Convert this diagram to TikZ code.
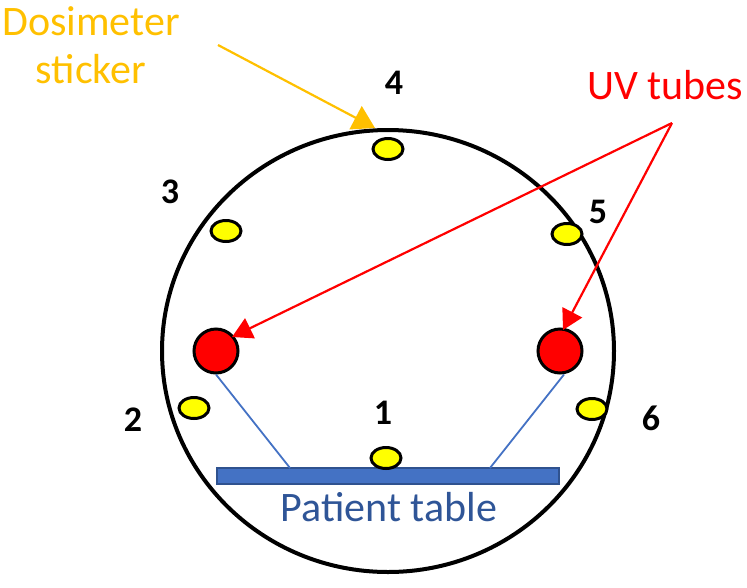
\documentclass[tikz,border=0pt]{standalone}
\usepackage{fontspec}
\setmainfont{Carlito}
\usetikzlibrary{arrows.meta,shapes.geometric}
\definecolor{dosio}{HTML}{FFC000}
\definecolor{uvred}{HTML}{FF0000}
\definecolor{tblue}{HTML}{4472C4}
\definecolor{tdark}{HTML}{2F528F}
\definecolor{ttext}{HTML}{2F5597}
\definecolor{sticky}{HTML}{FFFF00}
\tikzset{
  sticker/.style={ellipse,draw=black,line width=3pt,fill=sticky,minimum width=30pt,minimum height=21pt,inner sep=0pt},
  tube/.style={circle,draw=black,line width=3pt,fill=uvred,minimum size=44pt,inner sep=0pt},
  num/.style={font=\fontsize{36}{36}\selectfont\bfseries,text=black,inner sep=0pt},
  lab/.style={font=\fontsize{42}{48}\selectfont,inner sep=0pt,align=center},
  uvarrow/.style={draw=uvred,line width=2.2pt,-{Triangle[length=20pt,width=22pt]}},
  doarrow/.style={draw=dosio,line width=2.2pt,-{Triangle[length=22pt,width=26pt]}},
  beam/.style={draw=tblue,line width=1.8pt}
}
\begin{document}
\begin{tikzpicture}[x=1pt,y=-1pt]
\useasboundingbox (0,0) rectangle (747,587);
\node[draw=black,line width=4pt,ellipse,minimum width=452pt,minimum height=442pt,inner sep=0pt] (ring) at (388,351) {};
% table
\node[draw=tdark,line width=2pt,fill=tblue,minimum width=342pt,minimum height=16pt,inner sep=0pt,anchor=north west] (table) at (216,467) {};
\node[lab,text=ttext] (tlabel) at (389,507) {Patient table};
% tubes
\node[tube] (tl) at (216,351) {};
\node[tube] (tr) at (560,351) {};
\coordinate (bl) at (290,468);
\coordinate (br) at (490,468);
\draw[beam] (tl.south) coordinate (tls) (tls) -- (bl);
\draw[beam] (tr.south) ++(4,0) coordinate (trs) (trs) -- (br);
% stickers
\node[sticker] (s1) at (386,458) {};
\node[sticker] (s2) at (194,408) {};
\node[sticker] (s3) at (226,231) {};
\node[sticker] (s4) at (388,149) {};
\node[sticker] (s5) at (567,234) {};
\node[sticker] (s6) at (592,409) {};
% numbers
\node[num] (n1) at (383,413) {1};
\node[num] (n2) at (133,420) {2};
\node[num] (n3) at (170,192) {3};
\node[num] (n4) at (394,83) {4};
\node[num] (n5) at (598,212) {5};
\node[num] (n6) at (651,418) {6};
% labels
\node[lab,text=dosio] (dlab) at (91,45) {Dosimeter\\sticker};
\node[lab,text=uvred] (uvlab) at (665,85) {UV tubes};
\coordinate (dstart) at (218,45);
\coordinate (dtip) at (375,128);
\draw[doarrow] (dstart) -- (dtip);
\coordinate (uvsrc) at (672,123);
\coordinate (tltip) at (232,337);
\coordinate (trtip) at (563,330);
\draw[uvarrow] (uvsrc) -- (tltip);
\draw[uvarrow] (uvsrc) -- (trtip);
\end{tikzpicture}
\end{document}
